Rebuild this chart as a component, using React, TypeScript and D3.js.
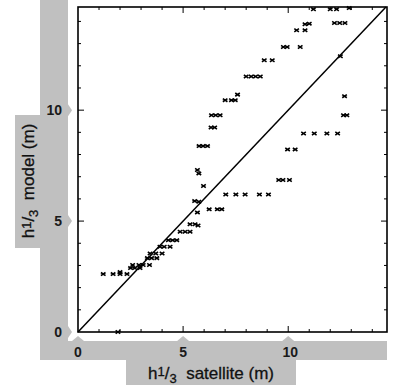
import * as d3 from 'd3';

// satellite (x) vs model (y) significant wave height, metres
const satellite = [
  11.2, 12.0, 12.3, 12.9, 10.8, 11.0, 10.4, 10.8, 12.2, 12.45, 12.7,
  9.77, 9.95, 10.57, 12.48, 8.86, 9.24, 8.0, 8.24, 8.45, 8.67,
  7.59, 7.0, 7.3, 7.48, 6.35, 6.55, 6.76, 6.33, 6.5,
  5.76, 5.95, 6.16, 5.68, 5.75, 5.97, 5.55, 5.75, 5.68,
  6.24, 6.63, 6.84, 7.03, 7.51, 7.95, 8.63, 9.06,
  9.55, 9.75, 10.06, 9.97, 10.33, 10.73, 11.24, 11.84, 12.35,
  12.63, 12.79, 12.68,
  5.33, 5.57, 5.71, 4.86, 5.1, 5.33, 4.3, 4.5, 4.7, 3.9, 4.1, 4.38,
  3.43, 3.7, 4.0, 3.3, 3.5, 3.75, 2.6, 2.9, 3.1, 3.4, 2.5, 2.7, 2.95,
  1.2, 1.67, 2.0, 2.33, 2.0, 1.9,
];
const model = [
  14.55, 14.55, 14.55, 14.6, 13.87, 13.9, 13.6, 13.6, 13.93, 13.93, 13.93,
  12.85, 12.85, 12.85, 12.43, 12.25, 12.25, 11.52, 11.52, 11.52, 11.52,
  10.7, 10.45, 10.45, 10.45, 9.77, 9.77, 9.77, 9.22, 9.22,
  8.38, 8.38, 8.38, 7.3, 7.15, 6.58, 5.9, 5.87, 5.39,
  5.53, 5.53, 5.53, 6.2, 6.2, 6.2, 6.2, 6.2,
  6.85, 6.85, 6.85, 8.23, 8.23, 8.95, 8.95, 8.95, 8.95,
  9.77, 9.77, 10.63,
  4.86, 4.86, 4.8, 4.52, 4.52, 4.52, 4.14, 4.14, 4.14, 3.84, 3.84, 3.84,
  3.54, 3.54, 3.54, 3.33, 3.33, 3.33, 3.02, 3.02, 3.02, 3.02, 2.88, 2.88, 2.88,
  2.61, 2.61, 2.61, 2.61, 2.7, 0,
];
const labelTicks = [0, 5, 10];

const W = 393;
const H = 388;
const grey = '#c0c0c0';
const font = '"Liberation Sans", Arial, sans-serif';

export default function App() {
  const x = d3.scaleLinear().domain([0, 14.7]).range([78, 387]);
  const y = d3.scaleLinear().domain([0, 14.65]).range([332, 7]);
  const minor = d3.range(1, 15);
  const tickLen = (v: number) => (v % 5 === 0 ? 6 : 3);

  const cross = 'M-2.3,-1.6L2.3,1.6M-2.3,1.6L2.3,-1.6';

  const fraction = (
    <>
      <tspan>h</tspan>
      <tspan dy={-3} fontSize="13">1</tspan>
      <tspan dy={3}>/</tspan>
      <tspan dy={4} fontSize="13">3</tspan>
      <tspan dy={-4}>{'\u00a0 '}</tspan>
    </>
  );

  return (
    <svg width={W} height={H} style={{ position: 'absolute', left: 0, top: 0, background: '#fff' }}
      fontFamily={font}>
      {/* grey axis bands */}
      <rect x={40} y={0} width={28} height={360} fill={grey} />
      <rect x={40} y={341} width={347} height={19} fill={grey} />
      <rect x={15} y={115} width={26} height={133} fill={grey} />
      <rect x={126} y={358} width={170} height={27} fill={grey} />
      {labelTicks.map(v => (
        <g key={'p' + v}>
          <path d={`M68,${y(v) - 6}L72,${y(v)}L68,${y(v) + 6}Z`} fill={grey} />
          <path d={`M${x(v) - 6},341L${x(v)},336L${x(v) + 6},341Z`} fill={grey} />
        </g>
      ))}

      {/* tick labels */}
      {labelTicks.map(v => (
        <text key={'yl' + v} x={62} y={y(v)} dy="0.35em" textAnchor="end" fontSize="14"
          fontWeight="bold" fill="#1a1a1a">{v}</text>
      ))}
      {labelTicks.map(v => (
        <text key={'xl' + v} x={x(v) + (v === 10 ? 2 : 0)} y={352} dy="0.35em" textAnchor="middle"
          fontSize="14" fontWeight="bold" fill="#1a1a1a">{v}</text>
      ))}

      {/* axis titles */}
      <text x={211} y={379} textAnchor="middle" fontSize="17" fill="#111"
        stroke="#111" strokeWidth={0.3}>
        {fraction}satellite (m)
      </text>
      <text transform={`translate(34,${181}) rotate(-90)`} textAnchor="middle" fontSize="17"
        fill="#111" stroke="#111" strokeWidth={0.3}>
        {fraction}model (m)
      </text>

      {/* ticks, inward on all sides */}
      {minor.map(v => (
        <g key={'t' + v} stroke="#000" strokeWidth={1}>
          <line x1={x(v)} x2={x(v)} y1={y(0)} y2={y(0) - tickLen(v)} />
          <line x1={x(v)} x2={x(v)} y1={y(14.65)} y2={y(14.65) + tickLen(v)} />
          <line x1={x(0)} x2={x(0) + tickLen(v)} y1={y(v)} y2={y(v)} />
          <line x1={x(14.7)} x2={x(14.7) - tickLen(v)} y1={y(v)} y2={y(v)} />
        </g>
      ))}

      {/* 1:1 line */}
      <line x1={x(0)} y1={y(0)} x2={x(14.65)} y2={y(14.65)} stroke="#000" strokeWidth={1.5} />

      {/* points */}
      {satellite.map((s, i) => (
        <path key={'m' + i} d={cross} transform={`translate(${x(s)},${y(model[i])})`}
          stroke="#000" strokeWidth={1.6} fill="none" />
      ))}

      {/* frame */}
      <rect x={78} y={7} width={309} height={325} fill="none" stroke="#000" strokeWidth={1.6} />
    </svg>
  );
}
